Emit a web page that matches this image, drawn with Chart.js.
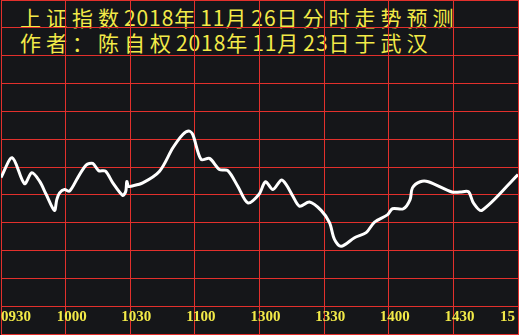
<!DOCTYPE html>
<html>
<head>
<meta charset="utf-8">
<script src="https://cdn.jsdelivr.net/npm/chart.js@4.4.1/dist/chart.umd.min.js"></script>
<style>
  html, body { margin: 0; padding: 0; background: #151619; }
  #wrap { position: relative; width: 519px; height: 335px; overflow: hidden; background: #151619; }
  #wrap canvas { position: absolute; left: 0; top: 0; z-index: 2; }
  .title {
    position: absolute; left: 20px; color: #f2ea48; z-index: 1;
    font-family: "Noto Sans CJK SC", sans-serif; font-size: 21px;
    line-height: 25px; white-space: nowrap;
  }
  .title .c { letter-spacing: 5px; }
  .title .d { letter-spacing: 0.9px; }
</style>
</head>
<body>
<div id="wrap">
  <div class="title" style="top:5px"><span class="c">上证指数</span><span class="d">2018</span><span class="c">年</span><span class="d">11</span><span class="c">月</span><span class="d">26</span><span class="c">日分时走势预测</span></div>
  <div class="title" style="top:30px"><span class="c">作者：陈自权</span><span class="d">2018</span><span class="c">年</span><span class="d">11</span><span class="c">月</span><span class="d">23</span><span class="c">日于武汉</span></div>
  <canvas id="chart-intraday" width="519" height="335"></canvas>
</div>
<script>
// -- DATA ----------------------------------------------
// minutes since 09:30 (lunch break removed), value in grid units
const minutes = [
  0, 5.2, 10.9, 14.3, 17.9, 21.0, 24.8, 25.9, 27.2, 29.5,
  31.8, 35.6, 39.5, 42.6, 45.3, 48.5, 51.9, 56.5, 57.9, 58.4,
  59.2, 60.4, 65.8, 73.6, 79.8, 84.4, 87.2, 89.0, 92.9, 96.8,
  101.4, 105.3, 109.9, 114.6, 119.7, 122.8, 126.2, 130.1, 132.4, 135.5,
  138.6, 143.2, 148.6, 152.5, 154.8, 157.9, 164.1, 169.5, 173.4, 179.5,
  181.7, 186.8, 189.9, 191.0, 194.6, 198.4, 209.3, 213.1, 217.0, 219.3,
  223.2, 240
];
const values = [
  5.62, 6.33, 5.40, 5.79, 5.49, 5.01, 4.44, 4.83, 5.07, 5.19,
  5.13, 5.61, 6.07, 6.13, 5.87, 5.85, 5.43, 4.98, 5.12, 5.48,
  5.30, 5.31, 5.43, 5.85, 6.69, 7.17, 7.29, 7.17, 6.27, 6.31,
  5.91, 5.87, 5.31, 4.71, 5.01, 5.47, 5.19, 5.53, 5.37, 4.95,
  4.59, 4.74, 4.44, 4.00, 3.40, 3.15, 3.46, 3.64, 4.02, 4.29,
  4.50, 4.50, 4.83, 5.25, 5.47, 5.47, 5.10, 5.10, 5.11, 4.71,
  4.44, 5.73
];
const tickMinutes = [0, 30, 60, 90, 120, 150, 180, 210, 240];
const tickLabels = ["0930", "1000", "1030", "1100", "1300", "1330", "1400", "1430", "15"];

const GRID = "#e2302c";
const YELLOW = "#f2ea48";

// -- PLUGINS -------------------------------------------
// time labels sit inside the bottom grid row
const timeLabels = {
  id: "timeLabels",
  afterDraw(chart) {
    const { ctx, scales, chartArea } = chart;
    const y = scales.y.getPixelForValue(0) - 13;
    ctx.save();
    ctx.fillStyle = YELLOW;
    ctx.font = "bold 15px 'Liberation Serif'";
    ctx.textBaseline = "alphabetic";
    tickLabels.forEach((label, i) => {
      let x = scales.x.getPixelForValue(tickMinutes[i]);
      if (i === 0) {
        ctx.textAlign = "left";
        x = chartArea.left;
      } else if (i === tickLabels.length - 1) {
        ctx.textAlign = "right";
        x = chartArea.right - 3;
      } else {
        ctx.textAlign = "center";
        x += 6;
      }
      ctx.fillText(label, x, y);
    });
    ctx.restore();
  }
};

// -- RENDER --------------------------------------------
const ctx = document.getElementById("chart-intraday");
new Chart(ctx, {
  type: "line",
  data: {
    datasets: [{
      data: minutes.map((m, i) => ({ x: m, y: values[i] })),
      borderColor: "#ffffff",
      borderWidth: 3,
      pointRadius: 0,
      tension: 0.3,
      fill: false
    }]
  },
  options: {
    responsive: false,
    animation: false,
    devicePixelRatio: 1,
    layout: { padding: { left: 1, right: 1, top: 0, bottom: 1 } },
    scales: {
      x: {
        type: "linear",
        min: 0,
        max: 240,
        ticks: { display: false, stepSize: 30 },
        grid: { color: GRID, lineWidth: 1, drawTicks: false },
        border: { color: GRID }
      },
      y: {
        min: 0,
        max: 12,
        ticks: { display: false, stepSize: 1 },
        grid: { color: GRID, lineWidth: 1, drawTicks: false },
        border: { color: GRID }
      }
    },
    plugins: {
      legend: { display: false },
      tooltip: { enabled: false }
    }
  },
  plugins: [timeLabels]
});
</script>
</body>
</html>
